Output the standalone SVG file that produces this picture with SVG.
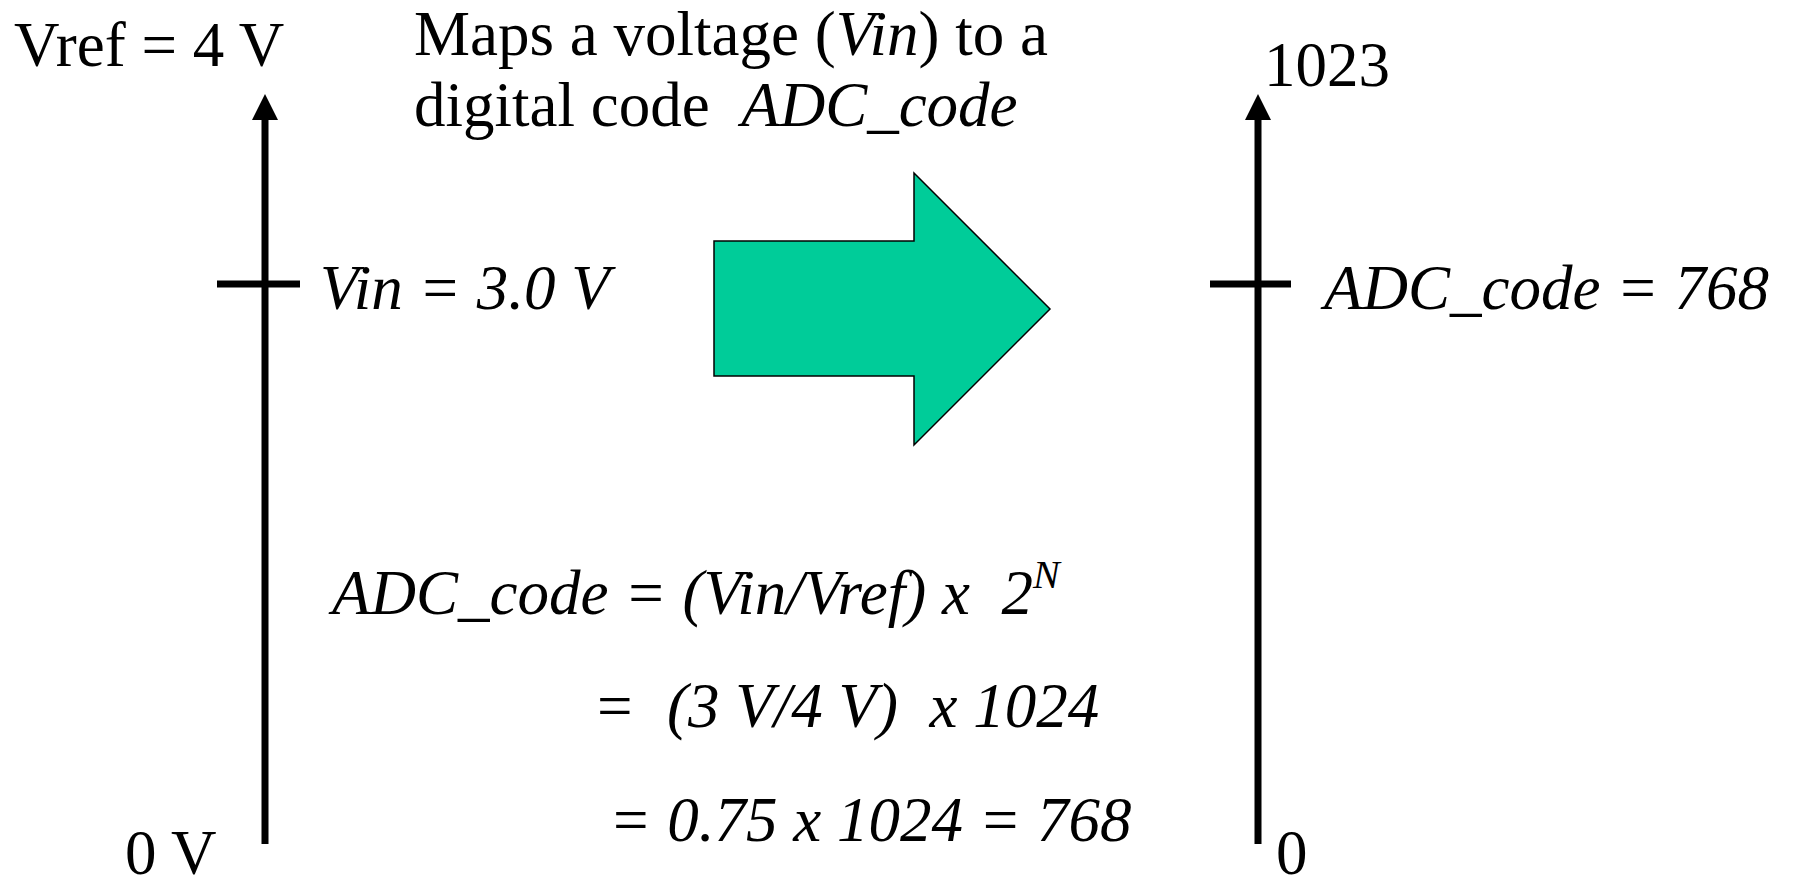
<svg xmlns="http://www.w3.org/2000/svg" width="1794" height="887" viewBox="0 0 1794 887">
<style>
  text { font-family: "Liberation Serif", "Times New Roman", serif; font-size: 63px; fill: #000; white-space: pre; }
  .it { font-style: italic; }
  .axis { stroke: #000; stroke-width: 7; fill: none; }
  .big { fill: #00CC99; stroke: #000; stroke-width: 1.5; }
</style>
<defs>
  <marker id="ah" markerUnits="userSpaceOnUse" markerWidth="26" markerHeight="26" viewBox="0 0 26 26" refX="0" refY="13" orient="auto">
    <path d="M0,0 L26,13 L0,26 Z" fill="#000"/>
  </marker>
</defs>
<rect width="1794" height="887" fill="#fff"/>

<g id="title">
  <text x="414" y="55" xml:space="preserve">Maps a voltage (<tspan class="it">Vin</tspan>) to a</text>
  <text x="414" y="126" xml:space="preserve">digital code  <tspan class="it">ADC_code</tspan></text>
</g>

<g id="connectors">
  <line class="axis" x1="265" y1="844" x2="265" y2="120" marker-end="url(#ah)"/>
  <line class="axis" x1="217" y1="284" x2="300" y2="284"/>
  <line class="axis" x1="1258" y1="844" x2="1258" y2="120" marker-end="url(#ah)"/>
  <line class="axis" x1="1210" y1="284" x2="1291" y2="284"/>
</g>

<g id="left-axis">
  <text x="14" y="66" xml:space="preserve">Vref = 4 V</text>
  <text x="320" y="309" class="it" xml:space="preserve">Vin = 3.0 V</text>
  <text x="125" y="874" xml:space="preserve">0 V</text>
</g>

<g id="map-arrow">
  <path class="big" d="M714,241 L914,241 L914,173 L1050,309 L914,445 L914,376 L714,376 Z"/>
</g>

<g id="right-axis">
  <text x="1264" y="86">1023</text>
  <text x="1324" y="309" class="it" xml:space="preserve">ADC_code = 768</text>
  <text x="1276" y="874">0</text>
</g>

<g id="formula">
  <text x="332" y="614" class="it" xml:space="preserve">ADC_code = (Vin/Vref) x  2<tspan font-size="40" dy="-26">N</tspan></text>
  <text x="593" y="727" class="it" xml:space="preserve">=  (3 V/4 V)  x 1024</text>
  <text x="609" y="841" class="it" xml:space="preserve">= 0.75 x 1024 = 768</text>
</g>
</svg>
